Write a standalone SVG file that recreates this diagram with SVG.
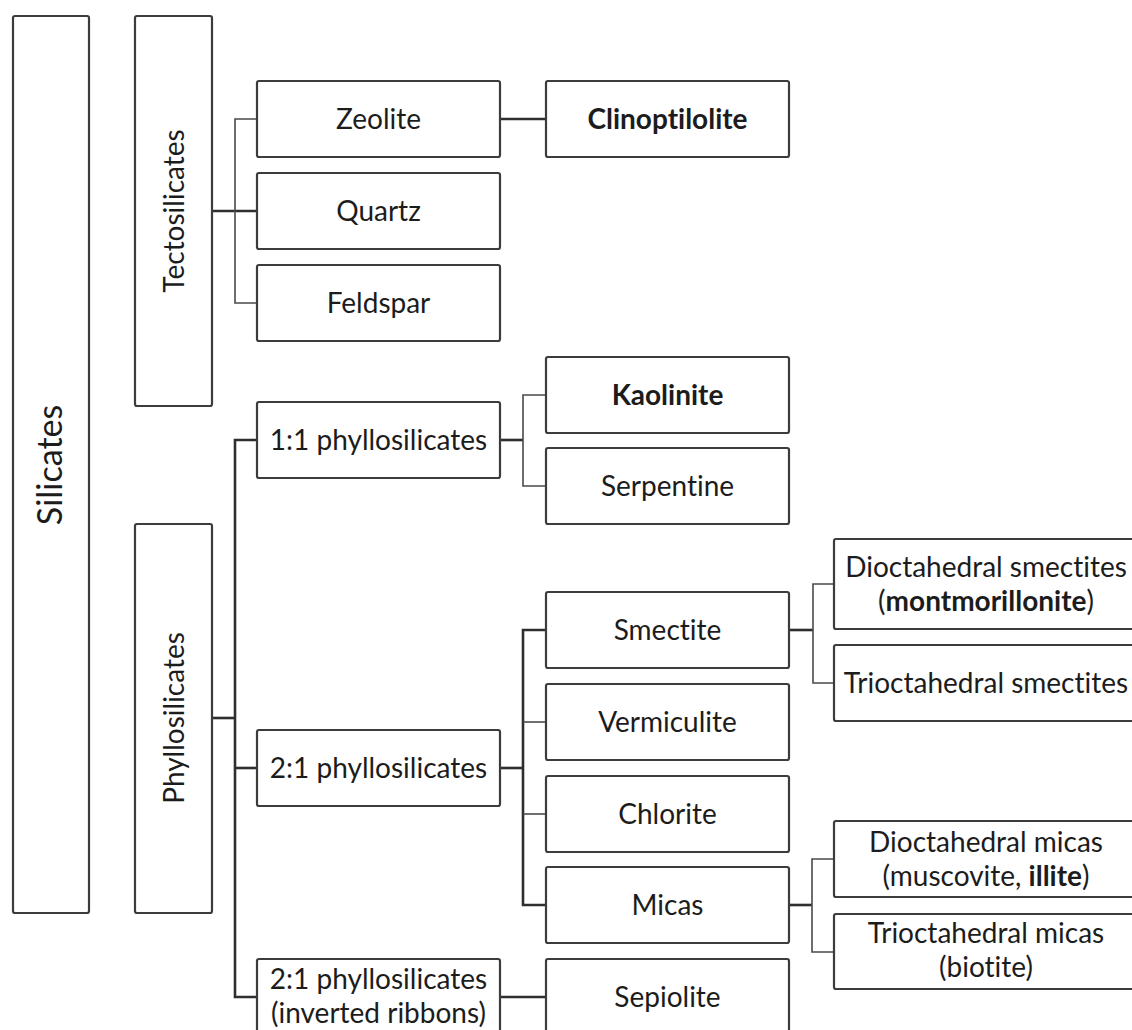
<svg xmlns="http://www.w3.org/2000/svg" width="1132" height="1030" viewBox="0 0 1132 1030">
<defs>
<style>
.box{fill:#ffffff;stroke:#3c3c3c;stroke-width:2.2}
.t{font-family:Lato,"Open Sans","Liberation Sans",sans-serif;font-size:28px;fill:#1c1c1c;text-anchor:middle;font-variant-ligatures:none}
.big{font-size:34px}
.b{font-weight:700}
.trunk{fill:none;stroke:#2e2e2e;stroke-width:2.6}
.br{fill:none;stroke:#4a4a4a;stroke-width:1.6}
</style>
</defs>
<rect width="1132" height="1030" fill="#ffffff"/>

<g id="connectors">
  <!-- Tectosilicates -->
  <line class="trunk" x1="212" y1="211" x2="257" y2="211"/>
  <path class="br" d="M257,119 H235 V303 H257"/>
  <!-- Zeolite to Clinoptilolite -->
  <line class="trunk" x1="500" y1="119" x2="546" y2="119"/>
  <!-- Phyllosilicates -->
  <line class="trunk" x1="212" y1="718" x2="235" y2="718"/>
  <path class="trunk" d="M257,440 H235 V997 H257"/>
  <line class="trunk" x1="235" y1="768" x2="257" y2="768"/>
  <!-- 1:1 -->
  <line class="trunk" x1="500" y1="440" x2="523" y2="440"/>
  <path class="br" d="M546,395 H523 V486 H546"/>
  <!-- 2:1 -->
  <line class="trunk" x1="500" y1="768" x2="523" y2="768"/>
  <path class="trunk" d="M546,630 H523 V905 H546"/>
  <line class="br" x1="523" y1="722" x2="546" y2="722"/>
  <line class="br" x1="523" y1="814" x2="546" y2="814"/>
  <!-- inverted ribbons -->
  <line class="trunk" x1="500" y1="997" x2="546" y2="997"/>
  <!-- Smectite -->
  <line class="trunk" x1="789" y1="630" x2="813" y2="630"/>
  <path class="br" d="M834,584 H813 V683 H834"/>
  <!-- Micas -->
  <line class="trunk" x1="789" y1="905" x2="812" y2="905"/>
  <path class="br" d="M834,859 H812 V952 H834"/>
</g>

<g id="silicates">
  <rect class="box" x="13" y="16" width="76" height="897" rx="2"/>
  <text class="t big" transform="translate(50,465) rotate(-90)" x="0" y="12">Silicates</text>
</g>
<g id="tectosilicates">
  <rect class="box" x="135" y="16" width="77" height="390" rx="2"/>
  <text class="t" transform="translate(173.5,211) rotate(-90)" x="0" y="10">Tectosilicates</text>
</g>
<g id="phyllosilicates">
  <rect class="box" x="135" y="524" width="77" height="389" rx="2"/>
  <text class="t" transform="translate(173.5,718) rotate(-90)" x="0" y="10">Phyllosilicates</text>
</g>

<g id="zeolite">
  <rect class="box" x="257" y="81" width="243" height="76" rx="2"/>
  <text class="t" x="378.5" y="129">Zeolite</text>
</g>
<g id="quartz">
  <rect class="box" x="257" y="173" width="243" height="76" rx="2"/>
  <text class="t" x="378.5" y="221">Quartz</text>
</g>
<g id="feldspar">
  <rect class="box" x="257" y="265" width="243" height="76" rx="2"/>
  <text class="t" x="378.5" y="313">Feldspar</text>
</g>
<g id="clinoptilolite">
  <rect class="box" x="546" y="81" width="243" height="76" rx="2"/>
  <text class="t b" x="667.5" y="129">Clinoptilolite</text>
</g>

<g id="phyllo11">
  <rect class="box" x="257" y="402" width="243" height="76" rx="2"/>
  <text class="t" x="378.5" y="450">1:1 phyllosilicates</text>
</g>
<g id="kaolinite">
  <rect class="box" x="546" y="357" width="243" height="76" rx="2"/>
  <text class="t b" x="667.5" y="405">Kaolinite</text>
</g>
<g id="serpentine">
  <rect class="box" x="546" y="448" width="243" height="76" rx="2"/>
  <text class="t" x="667.5" y="496">Serpentine</text>
</g>

<g id="phyllo21">
  <rect class="box" x="257" y="730" width="243" height="76" rx="2"/>
  <text class="t" x="378.5" y="778">2:1 phyllosilicates</text>
</g>
<g id="smectite">
  <rect class="box" x="546" y="592" width="243" height="76" rx="2"/>
  <text class="t" x="667.5" y="640">Smectite</text>
</g>
<g id="vermiculite">
  <rect class="box" x="546" y="684" width="243" height="76" rx="2"/>
  <text class="t" x="667.5" y="732">Vermiculite</text>
</g>
<g id="chlorite">
  <rect class="box" x="546" y="776" width="243" height="76" rx="2"/>
  <text class="t" x="667.5" y="824">Chlorite</text>
</g>
<g id="micas">
  <rect class="box" x="546" y="867" width="243" height="76" rx="2"/>
  <text class="t" x="667.5" y="915">Micas</text>
</g>

<g id="phyllo21inv">
  <rect class="box" x="257" y="959" width="243" height="78" rx="2"/>
  <text class="t" x="378.5" y="989">2:1 phyllosilicates<tspan x="378.5" dy="34">(inverted ribbons)</tspan></text>
</g>
<g id="sepiolite">
  <rect class="box" x="546" y="959" width="243" height="78" rx="2"/>
  <text class="t" x="667.5" y="1007">Sepiolite</text>
</g>

<g id="diosmectites">
  <rect class="box" x="834" y="539" width="306" height="90" rx="2"/>
  <text class="t" x="986" y="577">Dioctahedral smectites<tspan x="986" dy="34">(<tspan class="b">montmorillonite</tspan>)</tspan></text>
</g>
<g id="triosmectites">
  <rect class="box" x="834" y="645" width="306" height="76" rx="2"/>
  <text class="t" x="986" y="693">Trioctahedral smectites</text>
</g>
<g id="diomicas">
  <rect class="box" x="834" y="821" width="306" height="76" rx="2"/>
  <text class="t" x="986" y="852">Dioctahedral micas<tspan x="986" dy="34">(muscovite, <tspan class="b">illite</tspan>)</tspan></text>
</g>
<g id="triomicas">
  <rect class="box" x="834" y="914" width="306" height="75" rx="2"/>
  <text class="t" x="986" y="943">Trioctahedral micas<tspan x="986" dy="34">(biotite)</tspan></text>
</g>
</svg>
